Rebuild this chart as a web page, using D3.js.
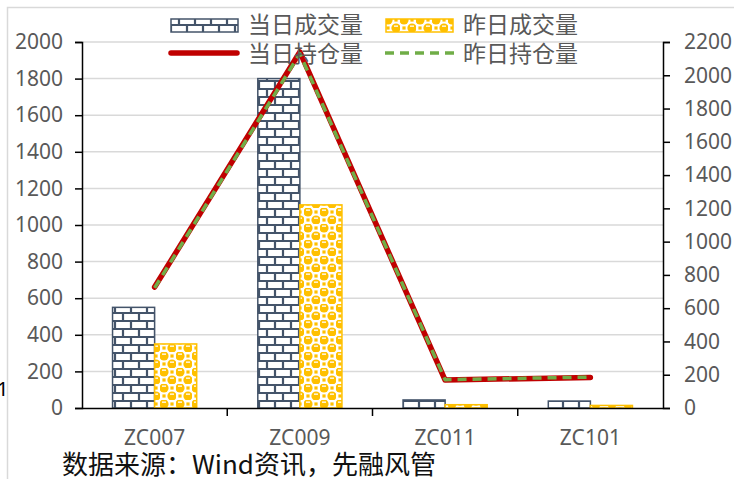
<!DOCTYPE html>
<html><head><meta charset="utf-8">
<script src="https://cdn.jsdelivr.net/npm/d3@7"></script>
<style>body{margin:0;background:#fff;}svg{display:block;}</style>
</head><body>
<svg id="c" width="734" height="479"></svg>
<script>
const categories = ["ZC007", "ZC009", "ZC011", "ZC101"];
const volToday = [550, 1800, 44, 38];
const volYesterday = [350, 1110, 18, 14];
const oiToday = [727, 2140, 168, 184];
const oiYesterday = [722, 2130, 170, 186];
const leftTicks = [0,200,400,600,800,1000,1200,1400,1600,1800,2000];
const rightTicks = [0,200,400,600,800,1000,1200,1400,1600,1800,2000,2200];
const seriesNames = ["当日成交量","昨日成交量","当日持仓量","昨日持仓量"];

const svg = d3.select("#c");
const L = 82, R = 663, T = 42, B = 408;
const numFont = "'Noto Sans', sans-serif";
const cjkFont = "'Noto Sans CJK SC', sans-serif";
const gray = "#595959";

// patterns
const defs = svg.append("defs");
const brick = defs.append("pattern").attr("id","brick").attr("patternUnits","userSpaceOnUse")
  .attr("width",16).attr("height",16);
brick.append("rect").attr("width",16).attr("height",16).attr("fill","#fff");
brick.append("path").attr("d","M0,1H16M0,9H16M3,1V9M11,9V16").attr("stroke","#44546A").attr("stroke-width",2.2).attr("fill","none");
const dots = defs.append("pattern").attr("id","dots").attr("patternUnits","userSpaceOnUse")
  .attr("width",16).attr("height",16);
dots.append("rect").attr("width",16).attr("height",16).attr("fill","#fff");
[[4,4],[12,12]].forEach(([cx,cy])=>{
  dots.append("circle").attr("cx",cx).attr("cy",cy).attr("r",4.6).attr("fill","#FFC000");
  dots.append("rect").attr("x",cx-2).attr("y",cy-2.5).attr("width",4).attr("height",1.3).attr("fill","#fff");
});
[[12,4],[4,12]].forEach(([cx,cy])=>{
  dots.append("rect").attr("x",cx-1.6).attr("y",cy-1.6).attr("width",3.2).attr("height",3.2).attr("fill","#FFC000");
});

// frame
svg.append("path").attr("d","M7.5,479V7.5H734").attr("stroke","#d9d9d9").attr("stroke-width",1.5).attr("fill","none");

const x = d3.scaleBand().domain(categories).range([L,R]);
const x1 = d3.scaleBand().domain([0,1]).range([0,x.bandwidth()]).paddingOuter(0.726).paddingInner(0);
const yL = d3.scaleLinear().domain([0,2000]).range([B,T]);
const yR = d3.scaleLinear().domain([0,2200]).range([B,T]);

// gridlines
svg.append("g").selectAll("line").data(leftTicks.slice(1)).join("line")
  .attr("x1",L).attr("x2",R).attr("y1",d=>yL(d)).attr("y2",d=>yL(d))
  .attr("stroke","#d9d9d9").attr("stroke-width",1.5);

// bars
const g = svg.append("g");
categories.forEach((c,i)=>{
  const bw = x1.bandwidth();
  g.append("rect").attr("x",x(c)+x1(0)).attr("y",yL(volToday[i])).attr("width",bw)
    .attr("height",B-yL(volToday[i])).attr("fill","url(#brick)").attr("stroke","#44546A").attr("stroke-width",1.5);
  g.append("rect").attr("x",x(c)+x1(1)).attr("y",yL(volYesterday[i])).attr("width",bw)
    .attr("height",B-yL(volYesterday[i])).attr("fill","url(#dots)").attr("stroke","#FFC000").attr("stroke-width",1.5);
});

// axes
const axL = svg.append("g").attr("transform",`translate(${L},0)`)
  .call(d3.axisLeft(yL).tickValues(leftTicks).tickSize(7).tickPadding(12).tickFormat(d3.format("d")));
const axR = svg.append("g").attr("transform",`translate(${R},0)`)
  .call(d3.axisRight(yR).tickValues(rightTicks).tickSize(7).tickPadding(14).tickFormat(d3.format("d")));
const axB = svg.append("g").attr("transform",`translate(0,${B})`)
  .call(d3.axisBottom(x).tickSize(0).tickPadding(22));
// category boundary ticks
svg.append("g").selectAll("line").data(categories.slice(1)).join("line")
  .attr("x1",d=>x(d)).attr("x2",d=>x(d)).attr("y1",B).attr("y2",B+8).attr("stroke","#000").attr("stroke-width",1.5);
[axL,axR,axB].forEach(a=>{
  a.selectAll("path,line").attr("stroke","#000").attr("stroke-width",1.5);
  a.selectAll("text").attr("font-family",numFont).attr("font-size",21).attr("fill",gray);
});
axB.select(".domain").attr("d",`M${L},0.5H${R}`);

// lines
const line = d3.line().x((d,i)=>x(categories[i])+x.bandwidth()/2).y(d=>yR(d));
svg.append("path").datum(oiToday).attr("d",line).attr("fill","none")
  .attr("stroke","#C00000").attr("stroke-width",5.5).attr("stroke-linecap","round").attr("stroke-linejoin","round");
svg.append("path").datum(oiYesterday).attr("d",line).attr("fill","none")
  .attr("stroke","#70AD47").attr("stroke-width",3.5).attr("stroke-dasharray","9,6").attr("stroke-linejoin","round");

// legend
const lg = svg.append("g");
lg.append("rect").attr("x",171).attr("y",19).attr("width",67).attr("height",13).attr("fill","url(#brick)").attr("stroke","#44546A").attr("stroke-width",1.5);
lg.append("rect").attr("x",386).attr("y",19).attr("width",67).attr("height",13).attr("fill","url(#dots)").attr("stroke","#FFC000").attr("stroke-width",1.5);
lg.append("line").attr("x1",171).attr("x2",237).attr("y1",53).attr("y2",53).attr("stroke","#C00000").attr("stroke-width",5.5).attr("stroke-linecap","round");
lg.append("line").attr("x1",385).attr("x2",455).attr("y1",53).attr("y2",53).attr("stroke","#70AD47").attr("stroke-width",3.5).attr("stroke-dasharray","9,6");
[[248,33,0],[463,33,1],[248,62,2],[463,62,3]].forEach(([tx,ty,k])=>{
  lg.append("text").attr("x",tx).attr("y",ty).text(seriesNames[k])
    .attr("font-family",cjkFont).attr("font-size",23).attr("fill",gray);
});

// cut-off label on left edge
svg.append("text").attr("x",-3).attr("y",396).text("1").attr("font-family",numFont).attr("font-size",20).attr("fill","#000");

// source
svg.append("text").attr("x",62).attr("y",474).text("数据来源：Wind资讯，先融风管")
  .attr("font-family",cjkFont).attr("font-size",26).attr("fill","#111");
</script>
</body></html>
